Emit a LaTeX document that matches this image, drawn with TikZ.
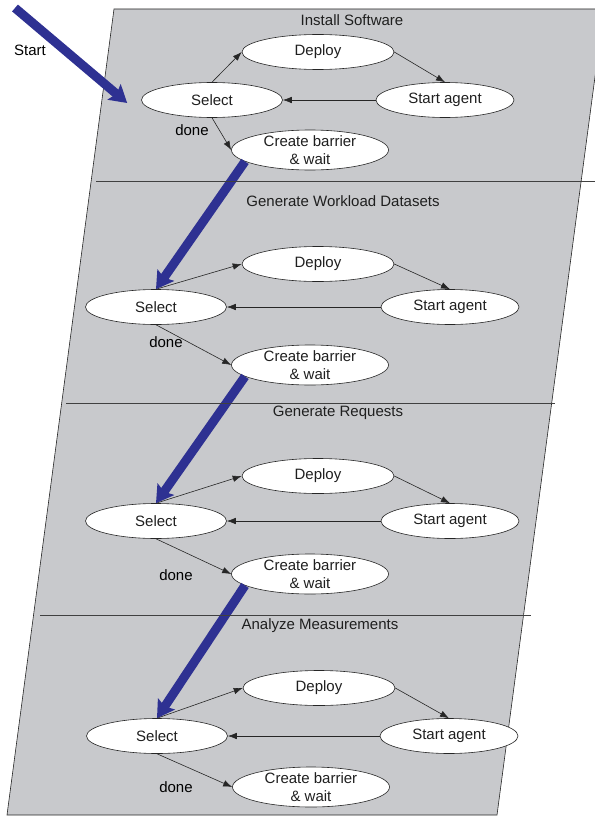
\documentclass[tikz,border=0pt]{standalone}
\usepackage{fontspec}
\setmainfont{Liberation Sans}
\usetikzlibrary{shapes.geometric,arrows.meta}
\def\slab{(114,9) -- (604,9) -- (497,815) -- (7,815) -- cycle}
\definecolor{slab area}{RGB}{200,201,204}
\definecolor{flow blue}{RGB}{46,49,146}
\colorlet{slab edge}{black!85}
\colorlet{label text}{black!88}
\tikzset{state/.style={ellipse, draw=slab edge, fill=white, line width=0.6bp, inner sep=0pt, minimum height=35bp, text=label text},
    select/.style={state, minimum width=141bp},
    deploy/.style={state, minimum width=152bp},
    agent/.style={state, minimum width=138bp},
    barrier/.style={state, minimum width=157bp, minimum height=40bp, inner ysep=-2bp, align=center},
    link/.style={draw=slab edge, line width=0.6bp, -{Latex[length=9bp,width=6.5bp]}},
    flow/.style={draw=flow blue, line width=9bp, -{Stealth[length=17bp,width=20bp,inset=3bp]}},
    divider/.style={draw=black!75, line width=0.6bp},
    title/.style={text=label text}}

\begin{document}
\begin{tikzpicture}[x=1bp, y=-1bp, font=\fontsize{15bp}{18bp}\selectfont]
\useasboundingbox (0,0) rectangle (595,817);
\clip (0,0) rectangle (595,817);

\draw[fill=slab area, draw=slab edge, line width=0.6bp] \slab;

% stage titles
\node[title] (t1) at (352,20) {Install Software};
\node[title] (t2) at (343,201) {Generate Workload Datasets};
\node[title] (t3) at (338,413) {Generate Requests};
\node[title] (t4) at (320,626) {Analyze Measurements};

\node[select] (sel1) at (212,100) {Select};
\node[deploy] (dep1) at (318,52) {Deploy};
\node[agent] (agt1) at (445,100) {Start agent};
\node[barrier] (bar1) at (310,150) {Create barrier\\\& wait};
\node (done1) at (192,130) {done};

\node[select] (sel2) at (156,307) {Select};
\node[deploy] (dep2) at (318,264) {Deploy};
\node[agent] (agt2) at (450,307) {Start agent};
\node[barrier] (bar2) at (310,365) {Create barrier\\\& wait};
\node (done2) at (166,342) {done};

\node[select] (sel3) at (156,521) {Select};
\node[deploy] (dep3) at (318,476) {Deploy};
\node[agent] (agt3) at (450,521) {Start agent};
\node[barrier] (bar3) at (310,574) {Create barrier\\\& wait};
\node (done3) at (176,575) {done};

\node[select] (sel4) at (157,736) {Select};
\node[deploy] (dep4) at (319,688) {Deploy};
\node[agent] (agt4) at (449,736) {Start agent};
\node[barrier] (bar4) at (311,787) {Create barrier\\\& wait};
\node (done4) at (176,787) {done};

\draw[link] (sel1.north) -- (dep1.west);
\draw[link] (dep1.east) -- (agt1.north);
\draw[link] (agt1.west) -- (sel1.east);
\draw[link] (sel1.south) -- (bar1.west);

\draw[link] (sel2.north) -- (dep2.west);
\draw[link] (dep2.east) -- (agt2.north);
\draw[link] (agt2.west) -- (sel2.east);
\draw[link] (sel2.south) -- (bar2.west);

\draw[link] (sel3.north) -- (dep3.west);
\draw[link] (dep3.east) -- (agt3.north);
\draw[link] (agt3.west) -- (sel3.east);
\draw[link] (sel3.south) -- (bar3.west);

\draw[link] (sel4.north) -- (dep4.west);
\draw[link] (dep4.east) -- (agt4.north);
\draw[link] (agt4.west) -- (sel4.east);
\draw[link] (sel4.south) -- (bar4.west);

% big flow arrows
\coordinate (origin) at (15,8);
\node (start) at (30,50) {Start};
\draw[flow] (origin) -- ([xshift=-14bp,yshift=-3bp]sel1.west);
\draw[flow] (bar1.190) -- (sel2.north);
\draw[flow] (bar2.190) -- (sel3.north);
\draw[flow] (bar3.190) -- (sel4.north);

\draw[divider] (96,181) -- (595,181);
\draw[divider] (66,403) -- (555,403);
\draw[divider] (40,615) -- (531,615);

\end{tikzpicture}
\end{document}
